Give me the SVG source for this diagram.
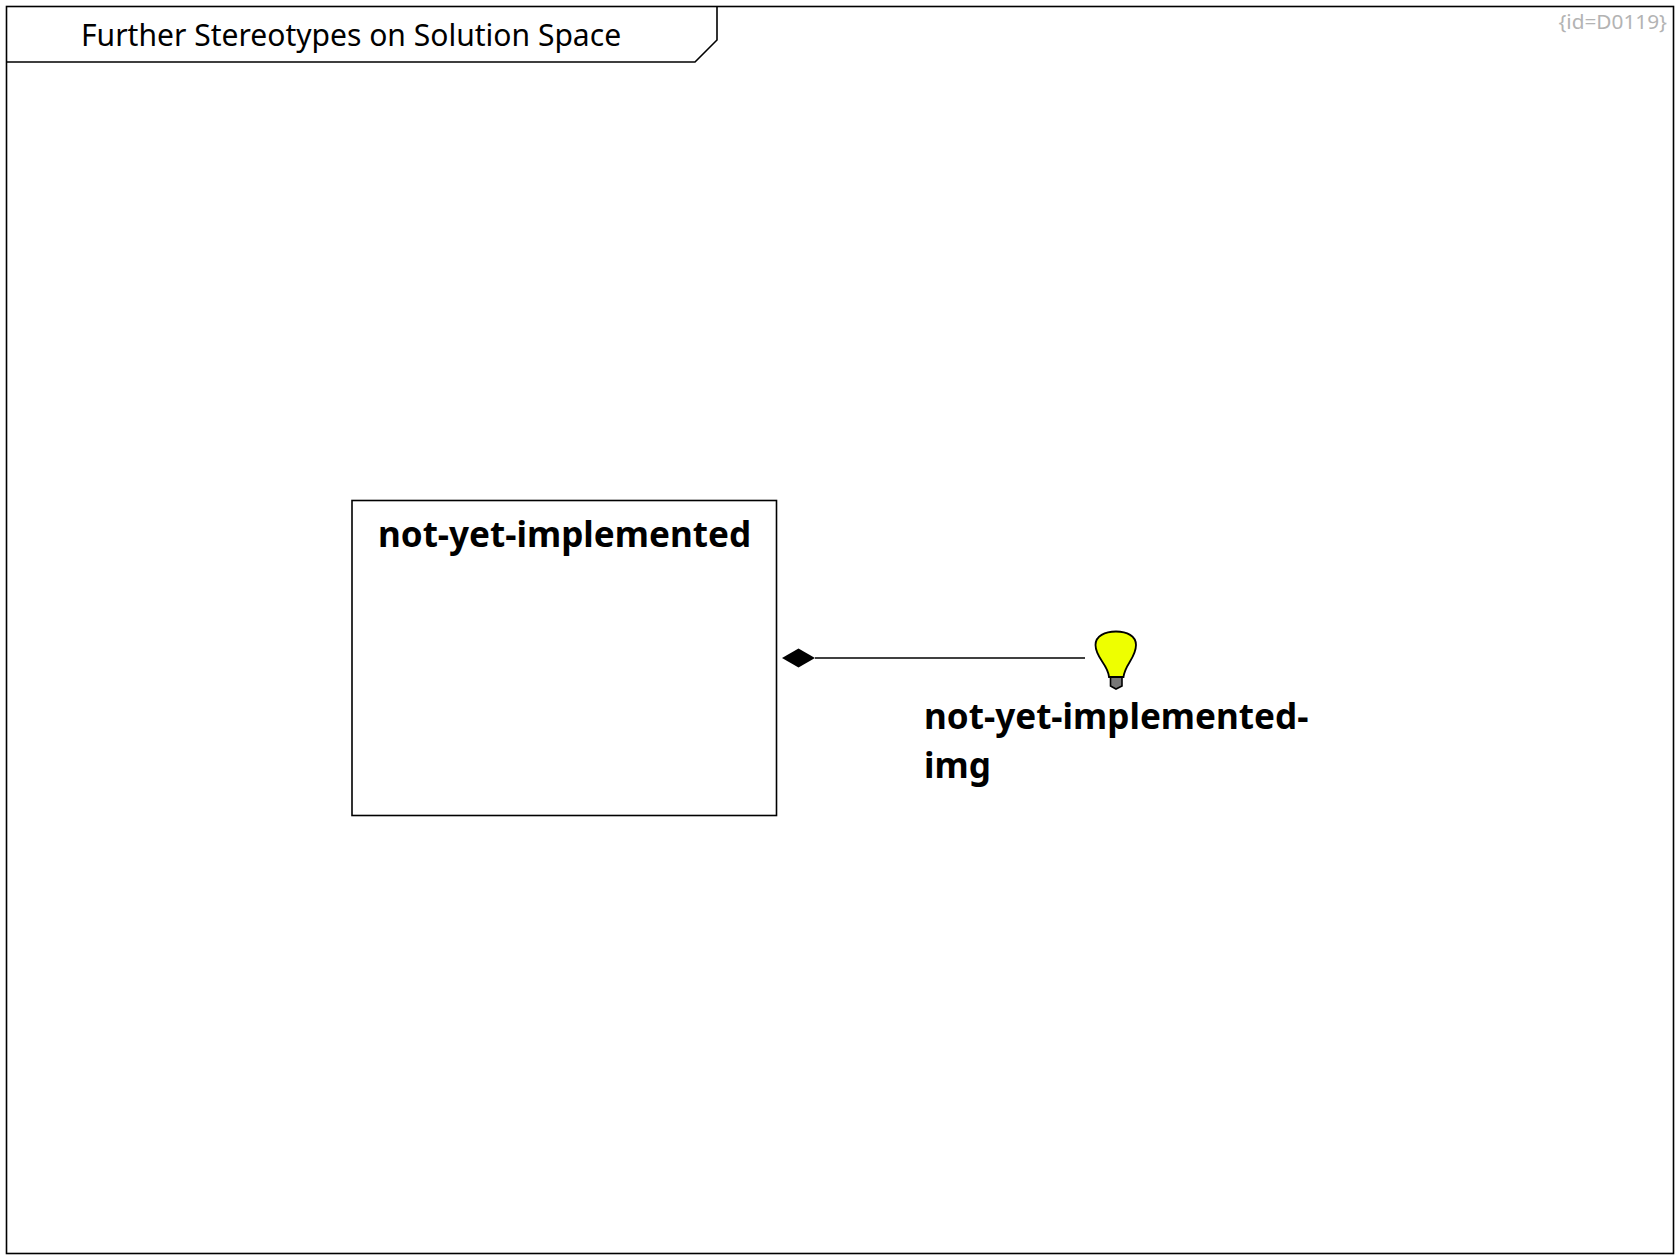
<svg xmlns="http://www.w3.org/2000/svg" width="1680" height="1260" viewBox="0 0 1680 1260">
<style>
text{font-family:"Noto Sans","Open Sans","Liberation Sans",sans-serif}
.ln{fill:none;stroke:#000;stroke-width:1.6}
.b{font-weight:700;font-size:35.100px;fill:#000}
</style>
<defs><marker id="dia" markerUnits="userSpaceOnUse" markerWidth="36" markerHeight="22" refX="0" refY="11" orient="auto"><path d="M0 11L16.500 1.500L33 11L16.500 20.500Z" fill="#000"/></marker></defs>
<rect width="1680" height="1260" fill="#fff"/>
<g id="frame">
<rect class="ln" x="6.500" y="6.500" width="1667" height="1247"/>
<path class="ln" d="M6.500 62H695L717 40V6.500"/>
<text x="81" y="46" font-size="30.050">Further Stereotypes on Solution Space</text>
<text x="1667" y="29" font-size="20.800" fill="#b3b3b3" text-anchor="end">{id=D0119}</text>
</g>
<g id="connectors"><path class="ln" d="M1085 658H815" marker-end="url(#dia)"/></g>
<g id="node-not-yet-implemented">
<rect class="ln" x="352" y="500.500" width="424.500" height="315"/>
<text class="b" x="564.500" y="546.500" text-anchor="middle">not-yet-implemented</text>
</g>
<g id="node-not-yet-implemented-img">
<path d="M1110.500 675H1122V686L1116 689L1110.500 686Z" fill="#777" stroke="#000" stroke-width="1.600"/>
<path d="M1109 677C1108 664 1095.500 658 1095.500 645C1095.500 636 1105 631.500 1116 631.500C1127 631.500 1136 636 1136 645C1136 658 1125 664 1123.500 677Z" fill="#eeff00" stroke="#000" stroke-width="1.800"/>
<text class="b" x="924" y="728.500">not-yet-implemented-</text>
<text class="b" x="924" y="777.500">img</text>
</g>
</svg>
